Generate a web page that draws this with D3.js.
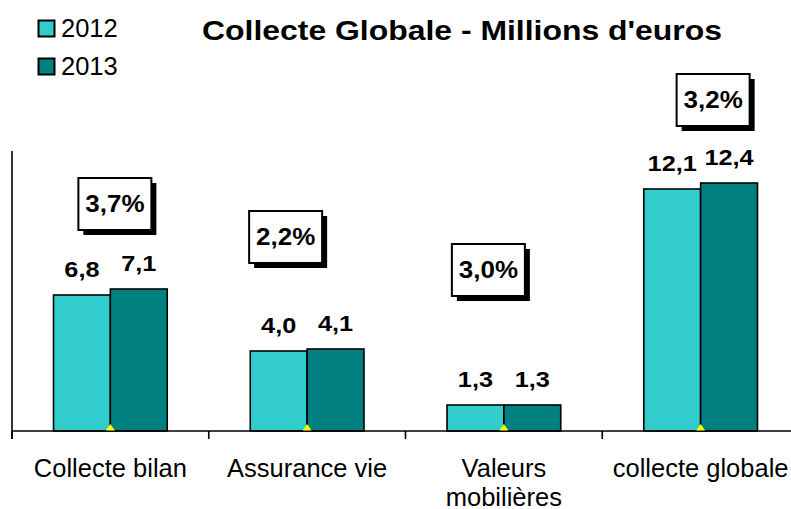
<!DOCTYPE html>
<html><head><meta charset="utf-8">
<script src="https://cdn.jsdelivr.net/npm/d3@7"></script>
<style>html,body{margin:0;padding:0;background:#fff;}svg{display:block;font-family:"Liberation Sans",Arial,sans-serif;}</style>
</head><body>
<script>
const categories = ["Collecte bilan", "Assurance vie", "Valeurs mobilières", "collecte globale"];
const categoryLines = [["Collecte bilan"], ["Assurance vie"], ["Valeurs", "mobilières"], ["collecte globale"]];
const seriesNames = ["2012", "2013"];
const values2012 = [6.8, 4.0, 1.3, 12.1];
const values2013 = [7.1, 4.1, 1.3, 12.4];
const growthLabels = ["3,7%", "2,2%", "3,0%", "3,2%"];
const colors = ["#33CCCC", "#008080"];
// layout of the growth boxes (px offset of box left from category centre, box top)
const boxLayout = [{dx: -32, top: 178}, {dx: -58, top: 211}, {dx: -52, top: 244}, {dx: -24, top: 74}];

const W = 791, H = 509;
const svg = d3.select("body").append("svg").attr("width", W).attr("height", H);
const fmt = v => d3.format(".1f")(v).replace(".", ",");

const x = d3.scaleBand().domain(categories).range([12, 799]).padding(0);
const y = d3.scaleLinear().domain([0, 14]).range([431, 151]);
const groupW = x.bandwidth() * 0.578;
const xs = d3.scaleBand().domain(seriesNames).range([0, groupW]).padding(0);

// bold text helper with horizontal stretch
function boldText(g, tx, ty, txt, size, sx) {
  g.append("g").attr("transform", `translate(${tx},${ty}) scale(${sx},1)`)
    .append("text").attr("text-anchor", "middle").attr("font-weight", "bold")
    .attr("font-size", size).attr("fill", "#000").text(txt);
}

// bars
const series = [values2012, values2013];
categories.forEach((c, i) => {
  const gx = x(c) + x.bandwidth() / 2 - groupW / 2;
  seriesNames.forEach((s, j) => {
    const v = series[j][i];
    svg.append("rect")
      .attr("x", gx + xs(s)).attr("y", y(v))
      .attr("width", xs.bandwidth()).attr("height", y(0) - y(v))
      .attr("fill", colors[j]).attr("stroke", "#000").attr("stroke-width", 1.6);
    boldText(svg, gx + xs(s) + xs.bandwidth() / 2, y(v) - 18, fmt(v), 22, 1.15);
  });
});

// axes
const xAxis = d3.axisBottom(x).tickSize(0).tickFormat("");
const ax = svg.append("g").attr("transform", `translate(0,${y(0)})`).call(xAxis);
ax.select(".domain").attr("stroke", "#000").attr("stroke-width", 1.6).attr("d", `M12,0H${W}`);
// category boundary ticks
const bounds = categories.map(c => x(c)).concat([x.range()[1]]);
svg.selectAll(".btick").data(bounds).enter().append("line")
  .attr("x1", d => d).attr("x2", d => d).attr("y1", y(0)).attr("y2", y(0) + 8)
  .attr("stroke", "#000").attr("stroke-width", 1.6);
svg.append("line").attr("x1", 12).attr("x2", 12).attr("y1", y(14)).attr("y2", y(0) + 8)
  .attr("stroke", "#000").attr("stroke-width", 1.6);

// small yellow markers
categories.forEach(c => {
  const cx = x(c) + x.bandwidth() / 2;
  svg.append("path").attr("d", `M${cx - 4.5},${y(0) - 0.5}L${cx},${y(0) - 7}L${cx + 4.5},${y(0) - 0.5}Z`).attr("fill", "#FFFF00");
});

// category labels
categories.forEach((c, i) => {
  const t = svg.append("text").attr("text-anchor", "middle").attr("font-size", 25.5).attr("fill", "#000");
  categoryLines[i].forEach((ln, k) => {
    t.append("tspan").attr("x", x(c) + x.bandwidth() / 2).attr("y", 477 + k * 29).text(ln);
  });
});

// growth boxes
categories.forEach((c, i) => {
  const cx = x(c) + x.bandwidth() / 2;
  const L = boxLayout[i];
  const bx = cx + L.dx, by = L.top, bw = 73, bh = 52;
  svg.append("rect").attr("x", bx + 5).attr("y", by + 5).attr("width", bw).attr("height", bh).attr("fill", "#000");
  svg.append("rect").attr("x", bx).attr("y", by).attr("width", bw).attr("height", bh)
    .attr("fill", "#fff").attr("stroke", "#000").attr("stroke-width", 2);
  boldText(svg, bx + bw / 2, by + 34, growthLabels[i], 23, 1.13);
});

// title
boldText(svg, 462, 40, "Collecte Globale - Millions d'euros", 28, 1.14);

// legend
seriesNames.forEach((s, j) => {
  svg.append("rect").attr("x", 38.5).attr("y", 20.5 + j * 38).attr("width", 16).attr("height", 16)
    .attr("fill", colors[j]).attr("stroke", "#000").attr("stroke-width", 2);
  svg.append("text").attr("x", 61).attr("y", 37 + j * 38).attr("font-size", 25.5).attr("fill", "#000").text(s);
});
</script>
</body></html>
